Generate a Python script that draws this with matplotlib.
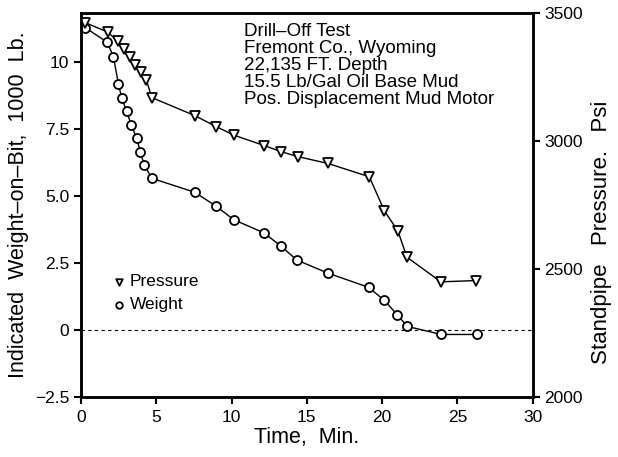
import matplotlib
matplotlib.use('Agg')
import matplotlib.pyplot as plt

plt.rcParams['font.family'] = ['Liberation Sans', 'DejaVu Sans']

# Weight-on-bit (1000 lb) vs time (min)
t_peso = [0.27, 1.75, 2.16, 2.49, 2.71, 3.04, 3.33, 3.71, 3.93, 4.2, 4.71, 7.55,
          8.98, 10.13, 12.16, 13.3, 14.33, 16.4, 19.1, 20.15, 21.0, 21.67, 23.93, 26.27]
peso = [11.3, 10.75, 10.2, 9.19, 8.66, 8.17, 7.67, 7.16, 6.67, 6.17, 5.67, 5.15,
        4.63, 4.13, 3.63, 3.13, 2.62, 2.13, 1.6, 1.11, 0.58, 0.14, -0.16, -0.16]

# Standpipe pressure (psi) vs time (min)
t_pres = [0.27, 1.8, 2.45, 2.85, 3.25, 3.6, 4.0, 4.35, 4.71, 7.55, 8.98, 10.13,
          12.16, 13.3, 14.38, 16.4, 19.15, 20.15, 21.05, 21.65, 23.9, 26.25]
presion = [3462, 3424, 3388, 3358, 3327, 3297, 3267, 3236, 3169, 3099, 3056, 3023,
           2982, 2958, 2939, 2912, 2860, 2727, 2648, 2546, 2450, 2455]

texto = ['Drill\u2013Off Test', 'Fremont Co., Wyoming', '22,135 FT. Depth',
         '15.5 Lb/Gal Oil Base Mud', 'Pos. Displacement Mud Motor']

fig = plt.figure(figsize=(6.18, 4.57), dpi=100)
ax = fig.add_axes([0.131, 0.131, 0.731, 0.841])
ax2 = ax.twinx()

ax.plot([0, 30], [0, 0], color='black', lw=0.8, ls=(0, (3, 3)))
ax.plot(t_peso, peso, color='black', lw=1.0, marker='o', ms=6.5,
        mfc='white', mec='black', mew=1.3)
ax2.plot(t_pres, presion, color='black', lw=1.0, marker='v', ms=6.5,
         mfc='white', mec='black', mew=1.3)

ax.set_xlim(0, 30)
ax.set_ylim(-2.5, 11.85)
ax2.set_ylim(2000, 3500)

ax.set_xticks([0, 5, 10, 15, 20, 25, 30])
ax.set_yticks([-2.5, 0, 2.5, 5.0, 7.5, 10])
ax.set_yticklabels(['\u22122.5', '0', '2.5', '5.0', '7.5', '10'])
ax2.set_yticks([2000, 2500, 3000, 3500])

for a in (ax, ax2):
    for s in a.spines.values():
        s.set_linewidth(1.8)
    a.tick_params(direction='out', length=5, width=1.5, labelsize=12.5)
ax.tick_params(axis='x', pad=4)

ax.set_xlabel('Time,  Min.', fontsize=15.5, labelpad=2)
ax.set_ylabel('Indicated  Weight\u2013on\u2013Bit,  1000  Lb.', fontsize=15.5, labelpad=4)
ax2.set_ylabel('Standpipe   Pressure.   Psi', fontsize=16)
ax2.yaxis.set_label_coords(1.128, 0.43)

for i, linea in enumerate(texto):
    ax.text(0.36, 0.952 - i * 0.0445, linea, transform=ax.transAxes,
            fontsize=13.5, va='center', ha='left')

# leyenda hecha a mano
ax.scatter([2.53], [1.8], marker='v', s=22, facecolor='white', edgecolor='black', lw=1.3)
ax.scatter([2.53], [0.95], marker='o', s=22, facecolor='white', edgecolor='black', lw=1.3)
ax.text(3.25, 1.8, 'Pressure', fontsize=12.5, va='center')
ax.text(3.25, 0.95, 'Weight', fontsize=12.5, va='center')

fig.savefig('out.png', dpi=100)
